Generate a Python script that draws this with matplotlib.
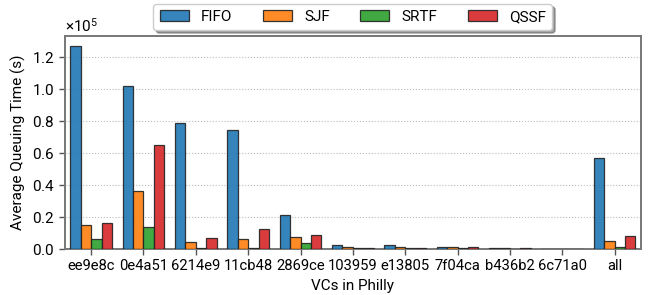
import numpy as np
import matplotlib.pyplot as plt
from matplotlib.ticker import ScalarFormatter, MultipleLocator

plt.rcParams['font.family'] = ['Roboto', 'DejaVu Sans']
plt.rcParams['mathtext.fontset'] = 'custom'
plt.rcParams['mathtext.rm'] = 'Roboto'

vcs = ['ee9e8c', '0e4a51', '6214e9', '11cb48', '2869ce', '103959',
       'e13805', '7f04ca', 'b436b2', '6c71a0', 'all']
fifo = [127000, 101500, 78500, 74000, 21000, 2500, 2500, 1500, 500, 200, 57000]
sjf = [15000, 36500, 4500, 6000, 7500, 1000, 1000, 1000, 400, 200, 5000]
srtf = [6500, 14000, 500, 400, 4000, 300, 300, 500, 200, 100, 1500]
qssf = [16500, 65000, 7000, 12500, 9000, 800, 800, 1500, 300, 200, 8000]

series = [('FIFO', fifo, '#1f77b4'), ('SJF', sjf, '#ff7f0e'),
          ('SRTF', srtf, '#2ca02c'), ('QSSF', qssf, '#d62728')]

fig = plt.figure(figsize=(6.55, 2.95), dpi=100)
ax = fig.add_axes([0.0992, 0.156, 0.879, 0.722])

x = np.arange(len(vcs))
w = 0.2
for i, (name, vals, c) in enumerate(series):
    ax.bar(x + (i - 1.5) * w, vals, w, color=c, alpha=0.9,
           edgecolor='#222222', linewidth=0.9, label=name, zorder=3)

ax.set_xlim(-0.5, len(vcs) - 0.5)
ax.set_ylim(0, 133000)
ax.yaxis.set_major_locator(MultipleLocator(20000))
ax.set_xticks(x)
ax.set_xticklabels(vcs, fontsize=10.6)
ax.tick_params(axis='y', labelsize=11)
ax.tick_params(axis='both', color='#555555', length=4, width=1)
ax.yaxis.grid(True, linestyle=':', color='#bbbbbb', linewidth=0.8, zorder=0)

fmt = ScalarFormatter(useMathText=True)
fmt.set_powerlimits((0, 0))
ax.yaxis.set_major_formatter(fmt)
ax.yaxis.get_offset_text().set_fontsize(11)

ax.set_ylabel('Average Queuing Time (s)', fontsize=11)
ax.set_xlabel('VCs in Philly', fontsize=11)
for s in ax.spines.values():
    s.set_color('#777777')
    s.set_linewidth(1.4)

ax.legend(ncol=4, loc='upper center', bbox_to_anchor=(0.5, 1.15),
          fontsize=11, shadow=True, fancybox=True, handlelength=1.9,
          columnspacing=2.0, borderaxespad=0)

fig.savefig('out.png', dpi=100)
